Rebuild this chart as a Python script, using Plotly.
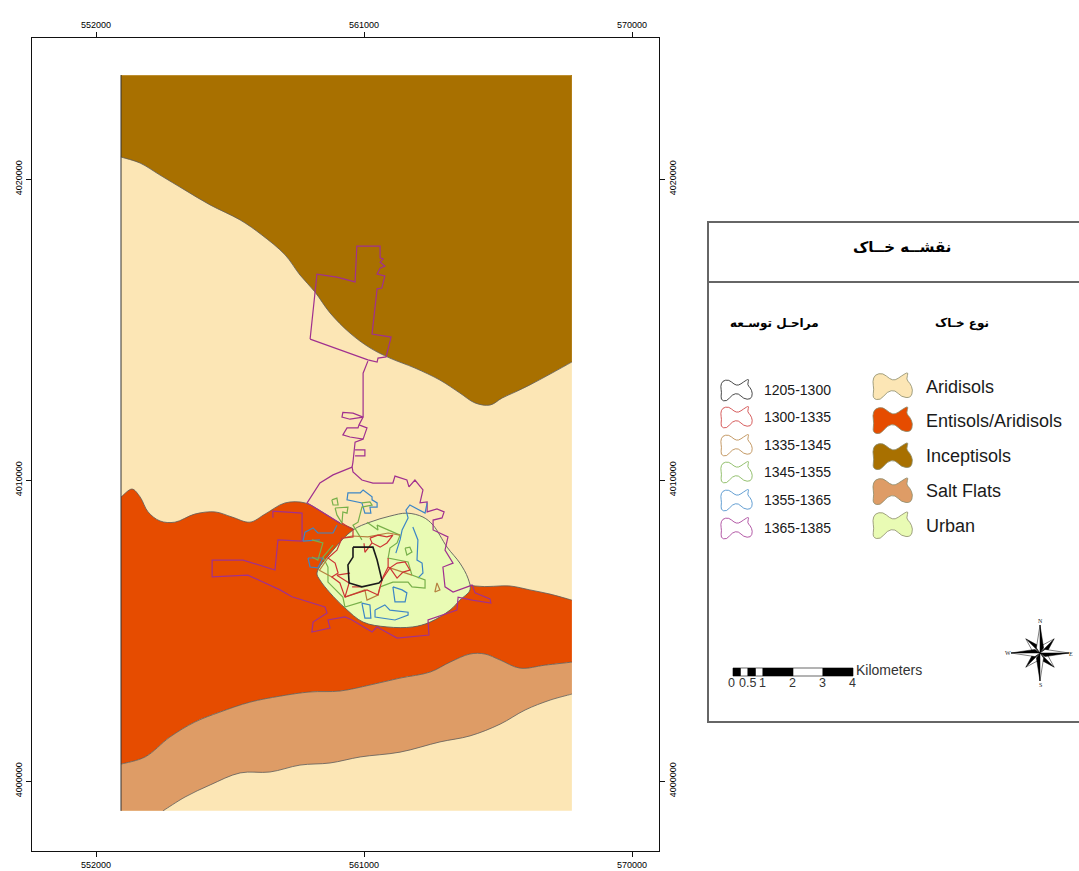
import math
import plotly.graph_objects as go

W, H = 1079, 871
E0, N0 = 552000, 4020000

# Map data: (km east of 552000, km north of 4020000)
WEST, EAST, NORTH, SOUTH = 0.84, 15.98, 3.45, -20.99
EXTENT = [(WEST, NORTH), (EAST, NORTH), (EAST, SOUTH), (WEST, SOUTH)]
INCEPTISOLS_EDGE = [(15.98,-6.08),(15.25,-6.48),(14.57,-6.84),(14.07,-7.08),(13.63,-7.28),(13.23,-7.51),(12.73,-7.44),(12.22,-7.11),(11.55,-6.68),(10.71,-6.28),(9.87,-5.95),(9.20,-5.61),(8.53,-5.12),(7.86,-4.45),(7.35,-3.75),(6.85,-3.19),(6.35,-2.52),(5.57,-1.86),(4.84,-1.36),(3.83,-0.86),(2.99,-0.37),(2.15,0.13),(1.48,0.53),(0.84,0.73)]
ENTISOLS_TOP = [(0.84,-10.56),(1.21,-10.30),(1.48,-10.56),(1.75,-11.06),(2.15,-11.36),(2.65,-11.40),(3.32,-11.13),(4.00,-11.06),(4.57,-11.23),(5.17,-11.40),(5.68,-11.13),(6.35,-10.76),(7.02,-10.76),(7.59,-11.06),(8.19,-11.43),(8.70,-11.66),(9.20,-12.16),(10.88,-12.99),(12.73,-13.52),(13.90,-13.52),(14.57,-13.65),(15.25,-13.79),(15.98,-13.99)]
ENTISOLS_BOTTOM = [(15.98,-16.05),(15.08,-16.15),(14.24,-16.25),(13.57,-15.98),(13.06,-15.78),(12.56,-15.78),(11.89,-16.05),(11.22,-16.38),(10.21,-16.58),(9.20,-16.81),(8.19,-17.01),(7.19,-17.04),(6.18,-17.18),(5.17,-17.38),(4.16,-17.71),(3.32,-18.04),(2.48,-18.54),(1.65,-19.20),(0.84,-19.44)]
SALT_BOTTOM = [(2.25,-20.99),(2.99,-20.53),(3.83,-20.13),(4.84,-19.73),(5.84,-19.70),(6.85,-19.47),(7.86,-19.40),(8.87,-19.20),(10.21,-19.04),(11.55,-18.70),(12.56,-18.50),(13.57,-18.11),(14.41,-17.64),(15.25,-17.31),(15.98,-17.11)]
URBAN = [(7.42,-13.09),(7.96,-12.33),(8.63,-11.66),(9.20,-11.40),(9.87,-11.20),(10.44,-11.10),(10.98,-11.23),(11.32,-11.50),(11.79,-12.23),(12.22,-12.76),(12.49,-13.26),(12.56,-13.65),(12.22,-13.99),(11.89,-14.32),(11.22,-14.72),(10.64,-14.88),(9.77,-14.88),(8.97,-14.72),(8.36,-14.25),(7.86,-13.75),(7.52,-13.32),(7.42,-13.09)]

STAGE_1205 = [[(8.63,-12.23),(9.30,-12.23),(9.44,-12.66),(9.60,-13.32),(9.50,-13.42),(9.20,-13.49),(8.93,-13.55),(8.50,-13.42),(8.46,-12.82),(8.63,-12.56),(8.63,-12.23)]]
STAGE_1300 = [
    [(8.26,-11.43),(8.63,-11.66),(8.63,-11.89),(8.26,-11.93),(8.09,-12.33),(7.79,-12.59),(8.03,-12.76),(8.13,-13.09),(7.92,-13.22),(8.19,-13.42),(8.36,-13.89),(9.10,-13.65),(9.47,-13.82),(9.54,-13.55)],
    [(9.20,-11.93),(9.47,-11.83),(9.77,-11.89),(9.97,-11.83),(9.77,-12.09),(9.54,-12.23),(9.27,-12.09),(9.20,-11.93)],
    [(9.81,-12.59),(9.81,-12.89),(9.87,-12.92),(10.11,-12.76),(10.38,-12.72),(10.54,-12.99),(10.31,-13.06),(10.11,-13.26),(9.87,-12.92),(9.60,-13.32)],
    [(8.09,-13.16),(8.53,-13.09)],
    [(9.81,-12.89),(9.64,-13.22),(9.54,-13.55)],
    [(8.36,-13.89),(8.50,-13.42),(8.09,-13.16)],
    [(8.60,-13.55),(8.93,-13.55)],
    [(9.00,-12.10),(9.03,-12.40),(9.27,-12.09)],
]
STAGE_1335 = [
    [(11.45,-13.42),(11.55,-13.65),(11.38,-13.72),(11.45,-13.42)],
    [(8.36,-13.89),(9.03,-13.65),(9.10,-13.99),(9.47,-13.82),(9.54,-13.55)],
    [(8.26,-11.93),(8.60,-11.86),(9.13,-11.89),(9.81,-11.76),(10.21,-11.83)],
    [(9.87,-12.92),(10.31,-13.06),(10.61,-13.16)],
    [(7.79,-12.59),(7.50,-13.00),(7.92,-13.22)],
]
STAGE_1345 = [
    [(7.92,-10.66),(8.09,-10.60),(8.13,-10.83),(7.96,-10.83),(7.92,-10.66)],
    [(8.03,-10.93),(8.46,-10.90),(8.43,-11.10),(8.29,-11.06),(8.26,-11.43),(8.09,-11.16),(8.03,-10.93)],
    [(8.93,-10.76),(9.20,-10.73),(9.27,-10.83),(8.93,-10.90),(8.80,-11.40),(8.63,-11.50),(8.93,-11.99)],
    [(9.10,-11.40),(9.47,-11.66),(9.44,-11.50),(10.21,-11.83),(10.11,-12.09),(9.87,-12.26),(9.81,-12.59),(10.48,-12.72),(10.61,-13.16),(11.05,-13.32),(11.05,-13.59),(10.61,-13.55),(10.48,-13.39),(9.97,-13.39),(9.54,-13.55)],
    [(10.38,-12.26),(10.54,-12.23),(10.61,-12.39),(10.44,-12.49),(10.38,-12.26)],
    [(7.96,-12.16),(7.62,-12.56),(7.79,-12.89),(7.79,-13.39),(8.29,-13.89),(8.36,-14.22),(8.93,-14.05)],
    [(7.25,-11.99),(7.62,-12.09),(7.45,-12.66),(7.25,-12.56)],
]
STAGE_1355 = [
    [(8.87,-10.43),(8.97,-10.33),(9.27,-10.56),(9.27,-10.66),(9.44,-10.76),(9.44,-10.90),(9.20,-10.90),(9.23,-11.10),(9.03,-11.10),(8.93,-10.76),(8.43,-10.66),(8.46,-10.43),(8.87,-10.43)],
    [(11.12,-10.76),(11.05,-11.10),(10.54,-10.83),(10.41,-11.00),(10.48,-11.26),(10.28,-11.66),(10.21,-11.99),(10.07,-12.43)],
    [(10.64,-11.56),(10.81,-11.99),(10.78,-12.66),(10.95,-12.76),(10.98,-13.09),(10.81,-13.26)],
    [(9.37,-14.32),(9.70,-14.15),(9.87,-14.32),(10.48,-14.39),(10.48,-14.49),(10.04,-14.65),(9.37,-14.55),(9.37,-14.32)],
    [(8.93,-14.09),(9.20,-14.15),(9.23,-14.59),(9.03,-14.59),(8.93,-14.09)],
    [(9.97,-13.55),(10.04,-14.05),(10.38,-14.05),(10.44,-13.75),(10.28,-13.65),(9.97,-13.55)],
    [(6.95,-12.03),(7.02,-11.73),(7.29,-11.59),(7.45,-11.76),(7.96,-11.76),(8.09,-11.50)],
    [(6.95,-12.03),(7.52,-11.99)],
    [(7.12,-12.59),(7.19,-12.89),(7.45,-12.92),(7.62,-12.59),(7.12,-12.59)],
]
STAGE_1365 = [
    [(7.19,-5.32),(7.42,-3.16),(8.09,-3.26),(8.70,-3.42),(8.76,-2.23),(9.54,-2.23),(9.54,-2.62),(9.64,-2.66),(9.54,-2.76),(9.70,-2.89),(9.54,-2.96),(9.44,-3.16),(9.70,-3.22),(9.60,-3.62),(9.44,-3.65),(9.27,-5.15),(9.91,-5.25),(9.74,-5.91),(9.47,-5.95),(9.44,-6.08),(9.13,-6.01),(7.19,-5.32)],
    [(9.13,-6.05),(8.97,-6.45),(8.97,-7.91),(8.90,-8.07),(8.83,-8.17),(9.10,-8.27),(8.97,-8.64),(8.53,-8.57),(8.29,-8.50),(8.43,-8.27),(8.80,-8.27),(8.83,-8.17)],
    [(8.97,-8.64),(8.70,-8.74),(8.63,-9.40),(8.60,-9.57),(8.63,-9.73),(8.93,-10.00),(9.30,-10.10),(9.97,-10.10),(10.04,-9.87),(10.44,-10.00),(10.51,-10.23),(10.71,-10.00),(10.98,-10.33),(10.88,-10.76),(11.12,-10.73),(11.12,-11.06),(11.45,-10.96),(11.69,-11.06),(11.62,-11.26),(11.32,-11.33),(11.32,-11.66),(11.82,-11.89),(11.72,-12.33),(11.99,-12.76),(11.65,-12.89),(11.72,-13.55),(11.99,-13.72),(12.46,-13.55),(12.63,-13.49),(12.73,-13.75),(13.23,-13.95),(13.26,-14.09),(12.63,-13.99),(12.16,-13.89),(12.12,-14.32),(11.15,-14.65),(11.18,-15.15),(10.11,-15.25),(9.44,-14.88),(9.27,-15.05),(8.60,-14.65),(8.36,-14.55),(7.79,-14.65),(7.86,-14.92),(7.25,-15.05),(7.29,-14.72),(7.76,-14.42),(7.69,-14.22),(6.58,-13.88),(6.18,-13.65),(5.10,-13.16),(3.90,-13.22),(3.90,-12.66),(4.94,-12.66),(6.01,-12.99),(6.11,-11.99),(6.92,-12.03),(6.92,-11.10),(5.94,-11.03),(5.94,-11.25)],
    [(8.97,-7.91),(8.53,-7.98),(8.26,-7.91),(8.29,-7.75),(8.63,-7.78),(8.97,-7.91)],
    [(8.70,-9.00),(9.03,-9.00),(9.03,-9.20),(8.70,-9.20)],
    [(8.60,-9.57),(7.96,-9.83),(7.52,-10.10),(7.09,-10.76),(7.59,-11.06),(8.19,-11.43)],
]

SOIL_NAMES = ["Aridisols", "Entisols/Aridisols", "Inceptisols", "Salt Flats", "Urban"]
SOIL_COLORS = ["#FCE6B5", "#E64C00", "#A87000", "#DE9C66", "#E9FBB4"]
STAGE_NAMES = ["1205-1300", "1300-1335", "1335-1345", "1345-1355", "1355-1365", "1365-1385"]
STAGE_COLORS = ["#1a1a1a", "#CC3333", "#B5803F", "#78B04A", "#3C86C6", "#A0308F"]
STAGES = [STAGE_1365, STAGE_1355, STAGE_1345, STAGE_1335, STAGE_1300, STAGE_1205]
STAGE_ORDER = [5, 4, 3, 2, 1, 0]

X_TICKS = [552000, 561000, 570000]
Y_TICKS = [4000000, 4010000, 4020000]
SCALE_KM = [0, 0.25, 0.5, 0.75, 1, 2, 3, 4]
SCALE_LABELS = [("0", 0), ("0.5", 0.5), ("1", 1), ("2", 2), ("3", 3), ("4", 4)]

def E(p): return E0 + 1000 * p[0]
def N(p): return N0 + 1000 * p[1]

def on_frame(p):
    return p[0] in (WEST, EAST) or p[1] in (NORTH, SOUTH)

def pinned(points, closed):
    """Keep the curve sharp where it meets the frame of the soil layer."""
    out = []
    n = len(points)
    for i, p in enumerate(points):
        if on_frame(p):
            prev = points[(i - 1) % n] if (closed or i > 0) else None
            nxt = points[(i + 1) % n] if (closed or i < n - 1) else None
            if prev is not None:
                d = math.dist(p, prev) or 1
                out.append((p[0] + (prev[0] - p[0]) * 0.04 / d, p[1] + (prev[1] - p[1]) * 0.04 / d))
            out.append(p)
            if nxt is not None:
                d = math.dist(p, nxt) or 1
                out.append((p[0] + (nxt[0] - p[0]) * 0.04 / d, p[1] + (nxt[1] - p[1]) * 0.04 / d))
        else:
            out.append(p)
    return out

fig = go.Figure()
SOIL_EDGE = "#5c5c5c"

def soil(points, color):
    pts = pinned(points, True)
    pts = pts + pts[:1]
    fig.add_trace(go.Scatter(x=[E(p) for p in pts], y=[N(p) for p in pts], mode="lines", fill="toself",
                             fillcolor=color, line=dict(width=0, shape="spline", smoothing=1, simplify=False),
                             hoverinfo="skip", showlegend=False))

def edge(points, color=SOIL_EDGE, width=0.8):
    pts = pinned(points, False)
    fig.add_trace(go.Scatter(x=[E(p) for p in pts], y=[N(p) for p in pts], mode="lines",
                             line=dict(color=color, width=width, shape="spline", smoothing=1, simplify=False),
                             hoverinfo="skip", showlegend=False))

fig.add_trace(go.Scatter(x=[E(p) for p in EXTENT + EXTENT[:1]], y=[N(p) for p in EXTENT + EXTENT[:1]], mode="lines",
                         fill="toself", fillcolor=SOIL_COLORS[0], line=dict(width=0), hoverinfo="skip", showlegend=False))
soil(EXTENT[:2] + INCEPTISOLS_EDGE, SOIL_COLORS[2])
soil(ENTISOLS_TOP + ENTISOLS_BOTTOM, SOIL_COLORS[1])
soil(ENTISOLS_BOTTOM + [(WEST, SOUTH)] + SALT_BOTTOM, SOIL_COLORS[3])
for line_pts in (INCEPTISOLS_EDGE, ENTISOLS_TOP, ENTISOLS_BOTTOM, SALT_BOTTOM):
    edge(line_pts)
soil(URBAN[:-1], SOIL_COLORS[4])
edge(URBAN, width=0.9)
fig.add_trace(go.Scatter(x=[E(EXTENT[0]), E(EXTENT[3])], y=[N(EXTENT[0]), N(EXTENT[3])], mode="lines",
                         line=dict(color="#333333", width=1), hoverinfo="skip", showlegend=False))

for idx, parts in zip(STAGE_ORDER, STAGES):
    xs, ys = [], []
    for part in parts:
        xs += [E(p) for p in part] + [None]
        ys += [N(p) for p in part] + [None]
    fig.add_trace(go.Scatter(x=xs, y=ys, mode="lines", name=STAGE_NAMES[idx],
                             line=dict(color=STAGE_COLORS[idx], width=1.6 if idx == 0 else 1.2),
                             hoverinfo="skip", showlegend=False))

# invisible trace that keeps the mirrored top/right axes alive
fig.add_trace(go.Scatter(x=X_TICKS, y=Y_TICKS, xaxis="x2", yaxis="y2", mode="markers",
                         marker=dict(opacity=0), hoverinfo="skip", showlegend=False))

# ---- layout helpers (sheet position -> paper fraction)
def fx(x): return x / W
def fy(y): return 1 - y / H

shapes, annos = [], []

def text(x, y, s, size, anchor="left", family="Liberation Sans", color="#1a1a1a"):
    annos.append(dict(x=fx(x), y=fy(y), xref="paper", yref="paper", text=s, showarrow=False,
                      xanchor=anchor, yanchor="middle", font=dict(size=size, family=family, color=color)))

def rect(x0, y0, x1, y1, fill=None, line=None, width=0):
    shapes.append(dict(type="rect", xref="paper", yref="paper", x0=fx(x0), x1=fx(x1), y0=fy(y0), y1=fy(y1),
                       fillcolor=fill or "rgba(0,0,0,0)", line=dict(color=line or "rgba(0,0,0,0)", width=width)))

BLOB = [(0.0,0.32),(0.06,0.04),(0.27,-0.02),(0.44,0.22),(0.58,0.28),(0.74,0.1),(0.93,-0.08),(0.86,0.24),(0.96,0.38),(1.04,0.66),(0.98,0.98),(0.74,0.94),(0.58,0.66),(0.38,0.72),(0.2,1.08),(0.0,1.0),(0.04,0.62)]

def blob(cx, cy, w, h, fill, line, width=1):
    pts = [(fx(cx - w/2 + px * w), fy(cy - h/2 + py * h)) for px, py in BLOB]
    n = len(pts)
    mid = lambda a, b: ((a[0] + b[0]) / 2, (a[1] + b[1]) / 2)
    start = mid(pts[-1], pts[0])
    path = f"M {start[0]:.5f} {start[1]:.5f}"
    for i in range(n):
        m = mid(pts[i], pts[(i + 1) % n])
        path += f" Q {pts[i][0]:.5f} {pts[i][1]:.5f} {m[0]:.5f} {m[1]:.5f}"
    shapes.append(dict(type="path", xref="paper", yref="paper", path=path + " Z",
                       fillcolor=fill, line=dict(color=line, width=width)))

# legend panel
rect(708, 222, 1085, 722, fill="white", line="#666666", width=2)
shapes.append(dict(type="line", xref="paper", yref="paper", x0=fx(708), x1=1, y0=fy(282), y1=fy(282),
                   line=dict(color="#666666", width=2)))
AR = "DejaVu Sans"
text(902, 247, "<b>نقشــه خــاک</b>", 15, "center", AR, "#000000")
text(775, 323, "<b>مراحـل توسـعه</b>", 12, "center", AR, "#000000")
text(962, 323, "<b>نوع خـاک</b>", 12, "center", AR, "#000000")

for name, col, cy in zip(STAGE_NAMES, STAGE_COLORS, [390, 417, 445, 472, 500, 528]):
    blob(736, cy, 31, 20, "white", col, 0.8)
    text(762, cy, name, 14)
for name, col, cy, ty in zip(SOIL_NAMES, SOIL_COLORS, [386, 420, 456, 491, 525], [387, 421, 456, 491, 526]):
    blob(892, cy, 39, 25, col, "#8a8a6a", 0.8)
    text(924, ty, name, 18)

# scale bar
BAR_X, PX_PER_KM = 733, 30
for i, (a, b) in enumerate(zip(SCALE_KM[:-1], SCALE_KM[1:])):
    rect(BAR_X + a * PX_PER_KM, 668, BAR_X + b * PX_PER_KM, 676, fill="black" if i % 2 == 0 else "white", line="black", width=0.6)
text(854, 670, "Kilometers", 14, color="#333333")
for lab, km in SCALE_LABELS:
    text(BAR_X + km * PX_PER_KM - 1, 683, lab, 12.5, "center", color="#333333")

# compass rose
CX, CY = 1040, 653
ROSE = [(90, 28, 3.6), (270, 28, 3.6), (0, 29, 3.6), (180, 29, 3.6), (45, 20, 4.5), (135, 20, 4.5), (225, 20, 4.5), (315, 20, 4.5)]
def tri(a, b, c, fill):
    path = "M " + " L ".join(f"{fx(p[0]):.5f} {fy(p[1]):.5f}" for p in (a, b, c)) + " Z"
    shapes.append(dict(type="path", xref="paper", yref="paper", path=path, fillcolor=fill, line=dict(color="black", width=0.5)))
for ang, length, half in sorted(ROSE, key=lambda r: r[1]):
    rad = math.radians(ang)
    ux, uy = math.cos(rad), -math.sin(rad)
    vx, vy = -uy, ux
    tip = (CX + ux * length, CY + uy * length)
    s1 = (CX + ux * 5 + vx * half, CY + uy * 5 + vy * half)
    s2 = (CX + ux * 5 - vx * half, CY + uy * 5 - vy * half)
    tri((CX, CY), tip, s1, "black")
    tri((CX, CY), tip, s2, "white")
for lab, lx, ly in [("N", 1040, 621), ("S", 1040, 685), ("W", 1008, 653), ("E", 1071, 654)]:
    text(lx, ly, lab, 6, "center", "Liberation Serif", "#222222")

axis_common = dict(showgrid=False, zeroline=False, showline=True, linecolor="#111111", linewidth=1,
                   ticks="outside", ticklen=5, tickcolor="#111111", tickwidth=1, tickformat="d",
                   tickfont=dict(size=9, family="Liberation Sans", color="#000000"))
X_RANGE = [549851, 570906]
Y_RANGE = [3997676, 4024684]
DX = [32 / W, 659 / W]
DY = [1 - 851 / H, 1 - 38 / H]
fig.update_layout(
    width=W, height=H, margin=dict(l=0, r=0, t=0, b=0), paper_bgcolor="white", plot_bgcolor="white",
    showlegend=False, shapes=shapes, annotations=annos,
    xaxis=dict(domain=DX, range=X_RANGE, tickvals=X_TICKS, side="bottom", anchor="y", **axis_common),
    yaxis=dict(domain=DY, range=Y_RANGE, tickvals=Y_TICKS, side="left", anchor="x", tickangle=-90, **axis_common),
    xaxis2=dict(domain=DX, range=X_RANGE, tickvals=X_TICKS, side="top", anchor="y2", overlaying="x", **axis_common),
    yaxis2=dict(domain=DY, range=Y_RANGE, tickvals=Y_TICKS, side="right", anchor="x2", overlaying="y", tickangle=-90, **axis_common),
)
fig.write_html("out.html", config=dict(displayModeBar=False),
               post_script="document.body.style.margin='0';document.documentElement.style.overflow='hidden';")
